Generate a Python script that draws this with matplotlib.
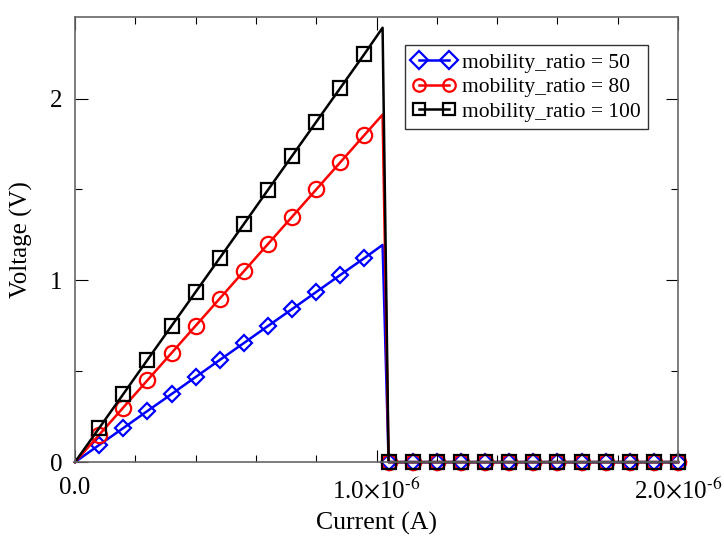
import matplotlib
matplotlib.use("Agg")
import matplotlib.pyplot as plt
from matplotlib.ticker import MultipleLocator, FixedLocator

plt.rcParams['font.family'] = ['Liberation Serif', 'DejaVu Serif']
plt.rcParams['mathtext.fontset'] = 'stix'

# Current in units of 1e-6 A
current_rise = [0.0, 0.08, 0.16, 0.24, 0.32, 0.40, 0.48, 0.56, 0.64, 0.72, 0.80, 0.88, 0.96, 1.02]
current_flat = [1.04, 1.12, 1.20, 1.28, 1.36, 1.44, 1.52, 1.60, 1.68, 1.76, 1.84, 1.92, 2.00]

v50_rise = [0.0, 0.094, 0.187, 0.281, 0.374, 0.468, 0.562, 0.655, 0.749, 0.842, 0.936, 1.030, 1.123, 1.195]
v80_rise = [0.0, 0.150, 0.300, 0.450, 0.600, 0.750, 0.900, 1.050, 1.200, 1.350, 1.500, 1.650, 1.800, 1.912]
v100_rise = [0.0, 0.187, 0.374, 0.562, 0.749, 0.936, 1.123, 1.310, 1.498, 1.685, 1.872, 2.059, 2.246, 2.390]
v_flat = [0.0] * 13

labels = ['mobility_ratio = 50', 'mobility_ratio = 80', 'mobility_ratio = 100']
colors = ['#0000ff', '#ff0000', '#000000']
markers = ['D', 'o', 's']
HY = '\u2010'
xtick_labels = ['0.0', '1.0$\\times$10$^{\\mathrm{' + HY + '6}}$', '2.0$\\times$10$^{\\mathrm{' + HY + '6}}$']

fig = plt.figure(figsize=(7.24, 5.43), dpi=100)
ax = fig.add_axes([0.1036, 0.149, 0.833, 0.820])

x_all = [c * 1e-6 for c in current_rise + current_flat]
mark_idx = [i for i in range(len(x_all)) if i not in (0, len(current_rise) - 1)]
series = [v50_rise, v80_rise, v100_rise]
msizes = [8.5, 11, 10]
for v, lab, col, mk, ms in zip(series, labels, colors, markers, msizes):
    y = v + v_flat
    ax.plot(x_all, y, color=col, lw=1.8, marker=mk, markersize=ms,
            markerfacecolor='none', markeredgecolor=col, markeredgewidth=1.6,
            markevery=mark_idx, label=lab, clip_on=False)

ax.set_xlim(0, 2.0e-6)
ax.set_ylim(0, 2.45)
ax.xaxis.set_major_locator(FixedLocator([0, 1e-6, 2e-6]))
ax.set_xticklabels(xtick_labels)
ax.xaxis.set_minor_locator(MultipleLocator(0.2e-6))
ax.yaxis.set_major_locator(MultipleLocator(1))
ax.yaxis.set_minor_locator(MultipleLocator(0.5))
ax.tick_params(which='both', direction='in', top=True, right=True, labelsize=18, width=0.8)
ax.tick_params(which='major', length=9)
ax.tick_params(which='minor', length=5)
ax.tick_params(axis='x', which='major', pad=11)
ax.tick_params(axis='y', which='major', pad=9)
for s in ax.spines.values():
    s.set_linewidth(1.2)
    s.set_color('#666666')

ax.set_xlabel('Current (A)', fontsize=18.5, labelpad=6)
ax.set_ylabel('Voltage (V)', fontsize=18, labelpad=12)

leg = ax.legend(loc='upper right', bbox_to_anchor=(0.950, 0.936), borderaxespad=0,
                fontsize=15.5, numpoints=2, handlelength=2.0, fancybox=False, framealpha=1,
                edgecolor='#333333', borderpad=0.35, labelspacing=0.2, handletextpad=0.3)
leg.get_frame().set_linewidth(1.0)
for h in leg.legend_handles:
    h.set_markersize(9)

fig.savefig('out.png', dpi=100)
